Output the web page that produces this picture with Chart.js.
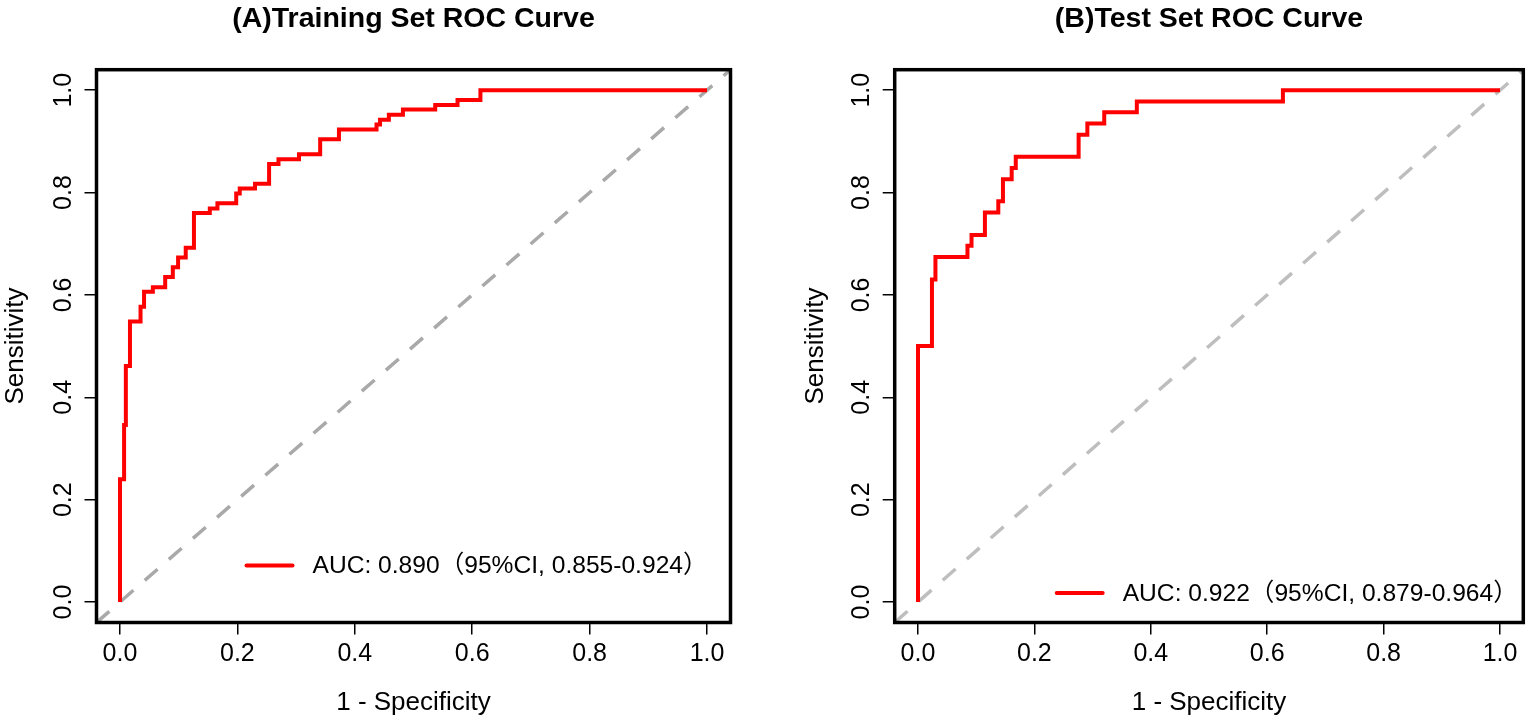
<!DOCTYPE html>
<html><head><meta charset="utf-8">
<script src="https://cdn.jsdelivr.net/npm/chart.js@4.4.1/dist/chart.umd.min.js"></script>
<style>
html,body{margin:0;padding:0;background:#fff;overflow:hidden;width:1535px;height:721px;position:relative}
canvas{position:absolute;top:0}
#cA{left:0;width:827px;height:721px}
#cB{left:800px;width:818px;height:721px}
</style></head><body>
<canvas id="cA" width="827" height="721"></canvas>
<canvas id="cB" width="818" height="721"></canvas>
<script>
// ---- data ----
const axisMin = -0.04, axisMax = 1.04;
const tickValues = [0, 0.2, 0.4, 0.6, 0.8, 1.0];
const tickLabels = ["0.0", "0.2", "0.4", "0.6", "0.8", "1.0"];

const trainFpr = [0, 0, 0.007, 0.007, 0.010, 0.010, 0.017, 0.017, 0.035, 0.035, 0.041, 0.041, 0.056, 0.056, 0.077, 0.077, 0.090, 0.090, 0.099, 0.099, 0.112, 0.112, 0.126, 0.126, 0.153, 0.153, 0.166, 0.166, 0.198, 0.198, 0.204, 0.204, 0.230, 0.230, 0.254, 0.254, 0.270, 0.270, 0.305, 0.305, 0.341, 0.341, 0.373, 0.373, 0.437, 0.437, 0.443, 0.443, 0.458, 0.458, 0.482, 0.482, 0.537, 0.537, 0.575, 0.575, 0.614, 0.614, 1];
const trainTpr = [0, 0.240, 0.240, 0.346, 0.346, 0.461, 0.461, 0.548, 0.548, 0.577, 0.577, 0.606, 0.606, 0.615, 0.615, 0.635, 0.635, 0.654, 0.654, 0.673, 0.673, 0.692, 0.692, 0.760, 0.760, 0.769, 0.769, 0.779, 0.779, 0.798, 0.798, 0.808, 0.808, 0.817, 0.817, 0.856, 0.856, 0.865, 0.865, 0.875, 0.875, 0.904, 0.904, 0.923, 0.923, 0.933, 0.933, 0.942, 0.942, 0.952, 0.952, 0.962, 0.962, 0.971, 0.971, 0.981, 0.981, 1, 1];

const testFpr = [0, 0, 0.024, 0.024, 0.030, 0.030, 0.085, 0.085, 0.092, 0.092, 0.115, 0.115, 0.138, 0.138, 0.146, 0.146, 0.161, 0.161, 0.168, 0.168, 0.276, 0.276, 0.291, 0.291, 0.320, 0.320, 0.376, 0.376, 0.627, 0.627, 1];
const testTpr = [0, 0.500, 0.500, 0.630, 0.630, 0.674, 0.674, 0.696, 0.696, 0.717, 0.717, 0.761, 0.761, 0.783, 0.783, 0.826, 0.826, 0.848, 0.848, 0.870, 0.870, 0.913, 0.913, 0.935, 0.935, 0.957, 0.957, 0.978, 0.978, 1, 1];

const panelTitles = ["(A)Training Set ROC Curve", "(B)Test Set ROC Curve"];
const aucLabels = ["AUC: 0.890（95%CI, 0.855-0.924）", "AUC: 0.922（95%CI, 0.879-0.964）"];
const xTitle = "1 - Specificity";
const yTitle = "Sensitivity";

// ---- drawing ----
const FONT = '"Liberation Sans", Arial, "Noto Sans CJK SC", sans-serif';
Chart.defaults.font.family = FONT;
Chart.defaults.color = '#000';

const framePlugin = {
  id: 'frame',
  afterDatasetsDraw(chart, args, opts) {
    const {ctx, chartArea: a} = chart;
    ctx.save();
    ctx.lineWidth = opts.width;
    ctx.strokeStyle = opts.color;
    ctx.strokeRect(a.left, a.top, a.right - a.left, a.bottom - a.top);
    ctx.restore();
  }
};
const aucLegendPlugin = {
  id: 'aucLegend',
  afterDatasetsDraw(chart, args, opts) {
    const {ctx, chartArea: a} = chart;
    const ds = chart.data.datasets[0];
    const x = a.left + opts.dx, y = a.bottom - opts.dy;
    ctx.save();
    ctx.lineWidth = ds.borderWidth;
    ctx.strokeStyle = ds.borderColor;
    ctx.lineCap = 'round';
    ctx.beginPath(); ctx.moveTo(x, y); ctx.lineTo(x + opts.len, y); ctx.stroke();
    ctx.fillStyle = '#000';
    ctx.font = opts.fontSize + 'px ' + FONT;
    ctx.textBaseline = 'middle';
    ctx.textAlign = 'left';
    ctx.fillText(ds.label, x + opts.len + opts.gap, y + 1);
    ctx.restore();
  }
};

function toPoints(xs, ys) { return xs.map((v, i) => ({x: v, y: ys[i]})); }

function makeChart(id, fpr, tpr, title, label, diagColor, yWidth, padRight, legendPos) {
  const fixedTicks = s => { s.ticks = tickValues.map(v => ({value: v})); };
  const grid = {drawOnChartArea: false, drawTicks: true, tickLength: 12, color: '#000', lineWidth: 1.5};
  return new Chart(document.getElementById(id), {
    type: 'line',
    data: {
      datasets: [
        {label: label, data: toPoints(fpr, tpr), borderColor: '#FF0000', borderWidth: 4,
         pointRadius: 0, tension: 0, fill: false, order: 0},
        {label: 'ref', data: [{x: axisMin, y: axisMin}, {x: axisMax, y: axisMax}], borderColor: diagColor,
         borderWidth: 3.5, borderDash: [17, 15], pointRadius: 0, fill: false, order: 1}
      ]
    },
    options: {
      responsive: false, animation: false, devicePixelRatio: 1,
      layout: {padding: {left: 0, right: padRight, top: 0, bottom: 0}},
      plugins: {
        legend: {display: false}, tooltip: {enabled: false},
        title: {display: true, fullSize: false, text: title, color: '#000',
                font: {size: 28.5, weight: 'bold', family: FONT}, padding: {top: 2, bottom: 33.5}},
        frame: {width: 3.5, color: '#000'},
        aucLegend: legendPos
      },
      scales: {
        x: {type: 'linear', min: axisMin, max: axisMax, afterBuildTicks: fixedTicks,
            afterFit: s => { s.height = 98.5; },
            ticks: {callback: (v, i) => tickLabels[i], font: {size: 25}, color: '#000', padding: 5,
                    autoSkip: false, minRotation: 0, maxRotation: 0},
            grid: grid, border: {display: false},
            title: {display: true, text: xTitle, color: '#000', font: {size: 26}, padding: {top: 0, bottom: 3}}},
        y: {type: 'linear', min: axisMin, max: axisMax, afterBuildTicks: fixedTicks,
            afterFit: s => { s.width = yWidth; },
            ticks: {callback: (v, i) => tickLabels[i], font: {size: 25}, color: '#000', padding: 3,
                    autoSkip: false, minRotation: 90, maxRotation: 90, crossAlign: 'center'},
            grid: grid, border: {display: false},
            title: {display: true, text: yTitle, color: '#000', font: {size: 26}, padding: {top: 0, bottom: 0}}}
      }
    },
    plugins: [framePlugin, aucLegendPlugin]
  });
}

makeChart('cA', trainFpr, trainTpr, panelTitles[0], aucLabels[0], '#A9A9A9', 96.5, 96.5,
          {dx: 150, dy: 57, len: 46, gap: 20, fontSize: 24.6});
makeChart('cB', testFpr, testTpr, panelTitles[1], aucLabels[1], '#BEBEBE', 94.7, 94.7,
          {dx: 162, dy: 29.5, len: 46, gap: 20, fontSize: 24.6});
</script>
</body></html>
